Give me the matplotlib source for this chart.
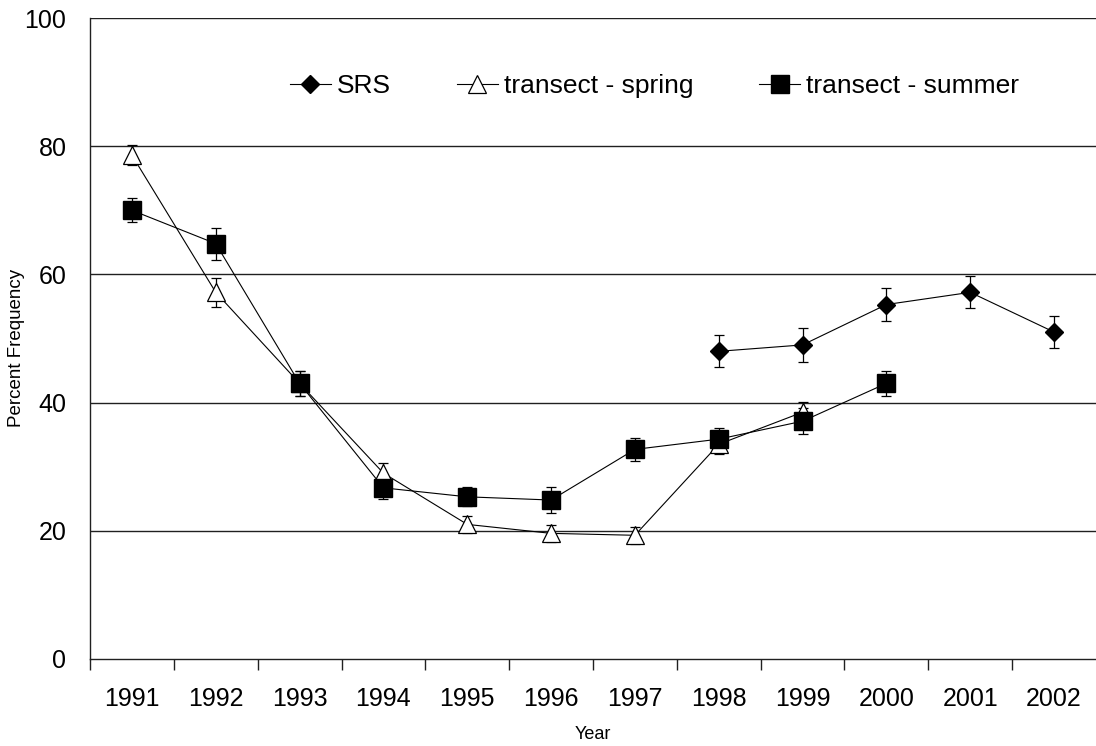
import numpy as np
import matplotlib
matplotlib.use("Agg")
import matplotlib.pyplot as plt

plt.rcParams['font.family'] = ['Liberation Sans', 'DejaVu Sans']

years = ['1991', '1992', '1993', '1994', '1995', '1996',
         '1997', '1998', '1999', '2000', '2001', '2002']
nan = np.nan

srs = [nan, nan, nan, nan, nan, nan, nan, 48.0, 49.0, 55.3, 57.2, 51.0]
srs_err = [nan, nan, nan, nan, nan, nan, nan, 2.5, 2.6, 2.6, 2.5, 2.5]

spring = [78.6, 57.2, 43.0, 29.0, 21.0, 19.6, 19.3, 33.5, 38.5, nan, nan, nan]
spring_err = [1.6, 2.3, 2.0, 1.5, 1.3, 1.3, 1.3, 1.5, 1.6, nan, nan, nan]

summer = [70.0, 64.8, 43.0, 26.7, 25.3, 24.8, 32.7, 34.3, 37.1, 43.0, nan, nan]
summer_err = [1.9, 2.5, 2.0, 1.7, 1.5, 2.0, 1.8, 1.7, 2.0, 1.9, nan, nan]

fig = plt.figure(figsize=(10.96, 7.46), dpi=100)
ax = fig.add_axes([90 / 1096, 1 - 659 / 746, 1006 / 1096, 641 / 746])

x = np.arange(len(years))

line_kw = dict(color='black', lw=0.8, ecolor='black', elinewidth=0.9,
               capsize=3.5, capthick=0.9)

c_srs = ax.errorbar(x, srs, yerr=srs_err, marker='D', ms=8.8,
                    mfc='black', mec='black', label='SRS', **line_kw)
c_spr = ax.errorbar(x, spring, yerr=spring_err, marker='^', ms=12.5,
                    mfc='white', mec='black', mew=0.9,
                    label='transect - spring', **line_kw)
c_sum = ax.errorbar(x, summer, yerr=summer_err, marker='s', ms=12.5,
                    mfc='black', mec='black', label='transect - summer',
                    **line_kw)

ax.set_xlim(-0.5, 11.5)
ax.set_ylim(0, 100)

# horizontal gridlines at every 20 %
ax.set_yticks([0, 20, 40, 60, 80, 100])
for v in [20, 40, 60, 80, 100]:
    ax.axhline(v, color='#202020', lw=1.0, zorder=0)

ax.set_xticks(x)
ax.set_xticklabels(years)
ax.set_xticks(np.arange(-0.5, 11.5, 1.0), minor=True)
ax.tick_params(axis='x', which='major', length=0, pad=20, labelsize=18)
ax.tick_params(axis='x', which='minor', length=8, width=1.0, direction='out',
               color='#202020')
ax.tick_params(axis='y', length=0, pad=17, labelsize=18)

for side in ['top', 'right']:
    ax.spines[side].set_visible(False)
for side in ['left', 'bottom']:
    ax.spines[side].set_linewidth(1.0)
    ax.spines[side].set_color('#202020')

ax.set_xlabel('Year', fontsize=13, labelpad=11)
fig.text(17 / 1096, 1 - 348 / 746, 'Percent Frequency', rotation=90,
         ha='center', va='center', fontsize=13.5)

ax.legend(handles=[c_srs[0], c_spr[0], c_sum[0]],
          labels=['SRS', 'transect - spring', 'transect - summer'],
          loc='center', bbox_to_anchor=(0.561, 0.894), ncol=3, frameon=False,
          fontsize=19, handlelength=1.55, handletextpad=0.23,
          columnspacing=2.5)

fig.savefig('out.png', dpi=100)
